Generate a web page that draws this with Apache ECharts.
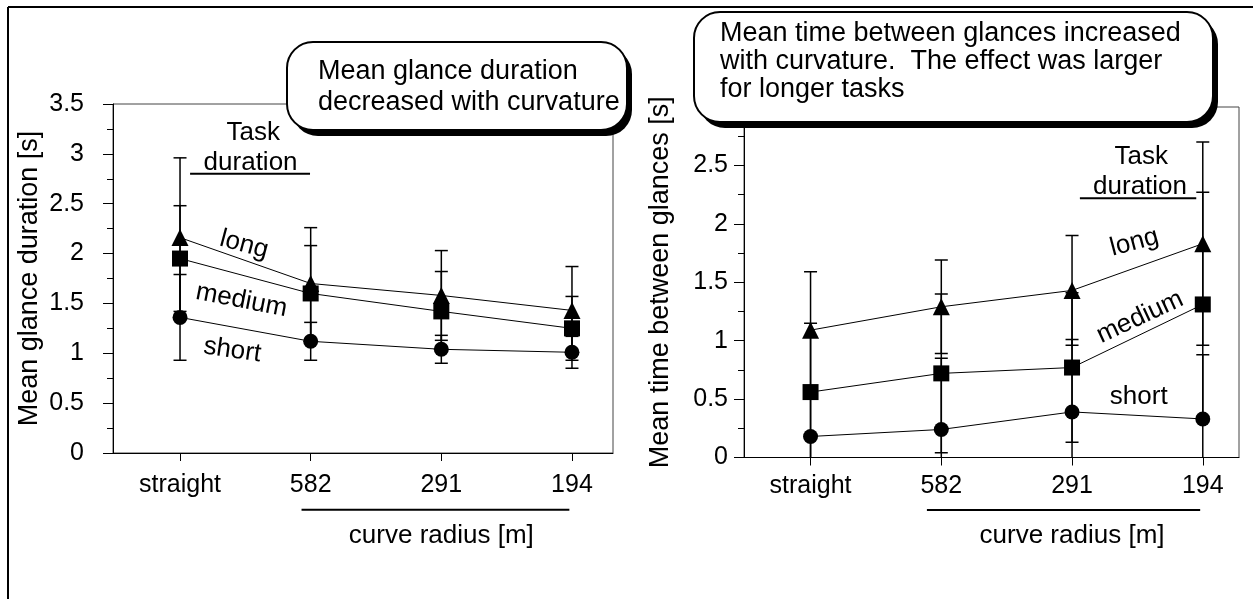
<!DOCTYPE html>
<html><head><meta charset="utf-8">
<script src="https://cdn.jsdelivr.net/npm/echarts@6/dist/echarts.min.js"></script>
<style>html,body{margin:0;padding:0;background:#fff}#c{width:1253px;height:599px}</style>
</head><body><div id="c"></div>
<script>
// ---------- data ----------
const categories = ['straight', '582', '291', '194'];
const catPositions = [0, 1, 2, 3];
// Left: mean glance duration [s]
const leftLong = [2.16, 1.70, 1.58, 1.43];
const leftLongErr = [0.80, 0.56, 0.45, 0.44];
const leftMedium = [1.95, 1.60, 1.42, 1.25];
const leftMediumErr = [0.53, 0.48, 0.40, 0.32];
const leftShort = [1.36, 1.12, 1.04, 1.01];
const leftShortErr = [0.43, 0.19, 0.14, 0.16];
// Right: mean time between glances [s]
const rightLong = [1.09, 1.29, 1.43, 1.83];
const rightLongErr = [0.50, 0.40, 0.47, 0.87];
const rightMedium = [0.56, 0.72, 0.77, 1.31];
const rightMediumErr = [0.59, 0.68, 0.64, 0.96];
const rightShort = [0.18, 0.24, 0.39, 0.33];
const rightShortErr = [0.40, 0.61, 0.62, 0.55];

const FONT = '"Liberation Sans", Arial, Helvetica, sans-serif';
const chart = echarts.init(document.getElementById('c'));

function errSeries(means, errs, gi) {
  return {
    type: 'custom', xAxisIndex: gi, yAxisIndex: gi, z: 1, clip: true, silent: true,
    data: means.map((m, i) => [catPositions[i], m - errs[i], m + errs[i]]),
    renderItem(params, api) {
      const x = api.value(0);
      const lo = api.coord([x, api.value(1)]);
      const hi = api.coord([x, api.value(2)]);
      const w = 6.5, st = { stroke: '#000', lineWidth: 1.5 };
      return { type: 'group', children: [
        { type: 'line', shape: { x1: lo[0], y1: lo[1], x2: hi[0], y2: hi[1] }, style: st },
        { type: 'line', shape: { x1: hi[0] - w, y1: hi[1], x2: hi[0] + w, y2: hi[1] }, style: st },
        { type: 'line', shape: { x1: lo[0] - w, y1: lo[1], x2: lo[0] + w, y2: lo[1] }, style: st }
      ]};
    }
  };
}
function lineSeries(means, gi, symbol, size) {
  return {
    type: 'line', xAxisIndex: gi, yAxisIndex: gi, z: 3, silent: true,
    data: means.map((m, i) => [catPositions[i], m]),
    symbol, symbolSize: size, showSymbol: true,
    itemStyle: { color: '#000' }, lineStyle: { color: '#000', width: 1 }
  };
}
function xAxis(gi, min, max, margin) {
  return {
    type: 'value', gridIndex: gi, min, max,
    axisLine: { show: true, onZero: false, lineStyle: { color: '#000', width: 1 } },
    axisTick: { show: true, customValues: catPositions, length: 8, lineStyle: { color: '#000' } },
    axisLabel: { customValues: catPositions, formatter: v => categories[Math.round(v)],
      fontSize: 25, color: '#000', margin, fontFamily: FONT },
    splitLine: { show: false }
  };
}
function yAxis(gi, max, name, margin) {
  return {
    type: 'value', gridIndex: gi, min: 0, max, interval: 0.5,
    axisLine: { show: true, onZero: false, lineStyle: { color: '#000', width: 1 } },
    axisTick: { show: true, length: 10, lineStyle: { color: '#000' } },
    minorTick: { show: true, splitNumber: 2, length: 6, lineStyle: { color: '#000' } },
    axisLabel: { fontSize: 25, color: '#000', margin, fontFamily: FONT },
    splitLine: { show: false },
    name, nameLocation: 'middle', nameGap: 70,
    nameTextStyle: { fontSize: 27, color: '#000', fontFamily: FONT }
  };
}

chart.setOption({
  animation: false,
  backgroundColor: '#fff',
  grid: [
    { left: 113, right: 640, top: 104, bottom: 146, show: true, borderColor: '#444', borderWidth: 1 },
    { left: 744, right: 14, top: 107, bottom: 141.5, show: true, borderColor: '#444', borderWidth: 1 }
  ],
  xAxis: [xAxis(0, -0.513, 3.314, 20), xAxis(1, -0.509, 3.277, 16)],
  yAxis: [yAxis(0, 3.5, 'Mean glance duration [s]', 29), yAxis(1, 3, 'Mean time between glances [s]', 16)],
  series: [
    errSeries(leftLong, leftLongErr, 0), errSeries(leftMedium, leftMediumErr, 0), errSeries(leftShort, leftShortErr, 0),
    errSeries(rightLong, rightLongErr, 1), errSeries(rightMedium, rightMediumErr, 1), errSeries(rightShort, rightShortErr, 1),
    lineSeries(leftLong, 0, 'triangle', 17), lineSeries(leftMedium, 0, 'rect', 16), lineSeries(leftShort, 0, 'circle', 15),
    lineSeries(rightLong, 1, 'triangle', 17), lineSeries(rightMedium, 1, 'rect', 16), lineSeries(rightShort, 1, 'circle', 15)
  ]
});

// ---------- annotations (positioned through the axes) ----------
const annotations = [
  { g: 0, x: 0.56, y: 3.21, text: 'Task', rot: 0 },
  { g: 0, x: 0.54, y: 2.91, text: 'duration', rot: 0 },
  { g: 0, x: 0.49, y: 2.09, text: 'long', rot: -15 },
  { g: 0, x: 0.47, y: 1.53, text: 'medium', rot: -11 },
  { g: 0, x: 0.40, y: 1.03, text: 'short', rot: -8 },
  { g: 0, x: 2.0, y: -0.83, text: 'curve radius [m]', rot: 0 },
  { g: 1, x: 2.53, y: 2.57, text: 'Task', rot: 0 },
  { g: 1, x: 2.52, y: 2.32, text: 'duration', rot: 0 },
  { g: 1, x: 2.476, y: 1.84, text: 'long', rot: 15 },
  { g: 1, x: 2.52, y: 1.20, text: 'medium', rot: 25 },
  { g: 1, x: 2.51, y: 0.52, text: 'short', rot: 0 },
  { g: 1, x: 2.0, y: -0.67, text: 'curve radius [m]', rot: 0 }
];
const rules = [
  { g: 0, x1: 0.077, x2: 0.995, y: 2.80 },
  { g: 0, x1: 0.93, x2: 2.98, y: -0.57 },
  { g: 1, x1: 2.06, x2: 2.95, y: 2.22 },
  { g: 1, x1: 0.89, x2: 2.98, y: -0.45 }
];
const px = (g, x, y) => chart.convertToPixel({ gridIndex: g }, [x, y]);
const graphics = [];
annotations.forEach(a => {
  const p = px(a.g, a.x, a.y);
  graphics.push({ type: 'text', x: p[0], y: p[1], rotation: a.rot * Math.PI / 180, z: 50,
    style: { text: a.text, fill: '#000', font: '26px ' + FONT, align: 'center', verticalAlign: 'middle' } });
});
rules.forEach(r => {
  const a = px(r.g, r.x1, r.y), b = px(r.g, r.x2, r.y);
  graphics.push({ type: 'line', z: 50, shape: { x1: a[0], y1: a[1], x2: b[0], y2: b[1] }, style: { stroke: '#000', lineWidth: 2 } });
});
function callout(x, y, w, h, lines, tx, ty, lh) {
  graphics.push({ type: 'rect', z: 60, shape: { x: x + 5, y: y + 6, width: w, height: h, r: 26 }, style: { fill: '#000' } });
  graphics.push({ type: 'rect', z: 61, shape: { x, y, width: w, height: h, r: 26 }, style: { fill: '#fff', stroke: '#000', lineWidth: 2 } });
  lines.forEach((t, i) => graphics.push({ type: 'text', z: 62, x: tx, y: ty + i * lh,
    style: { text: t, fill: '#000', font: '27px ' + FONT, align: 'left', verticalAlign: 'middle' } }));
}
callout(287, 42, 340, 88, ['Mean glance duration', 'decreased with curvature'], 318, 72, 31);
callout(694, 12, 519, 110, ['Mean time between glances increased', 'with curvature.  The effect was larger', 'for longer tasks'], 720, 34, 28);
// outer frame
graphics.push({ type: 'line', z: 70, shape: { x1: 8, y1: 7, x2: 1253, y2: 7 }, style: { stroke: '#000', lineWidth: 2 } });
graphics.push({ type: 'line', z: 70, shape: { x1: 8, y1: 7, x2: 8, y2: 599 }, style: { stroke: '#000', lineWidth: 2 } });
chart.setOption({ graphic: graphics });
</script></body></html>
